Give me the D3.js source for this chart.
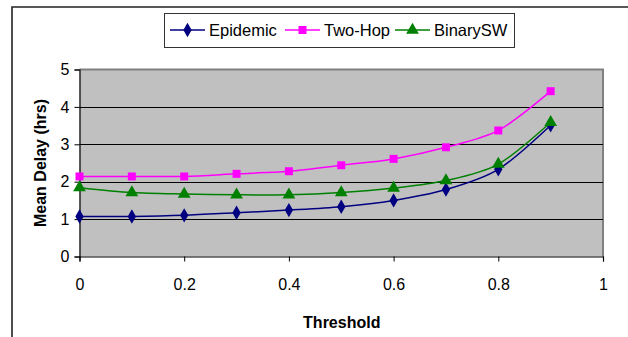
<!DOCTYPE html>
<html>
<head>
<meta charset="utf-8">
<script src="https://cdn.jsdelivr.net/npm/d3@7"></script>
<style>
  html, body { margin: 0; padding: 0; background: #fff; }
  svg { display: block; }
  text { font-family: Arial, "Liberation Sans", sans-serif; }
</style>
</head>
<body>
<svg id="chart" width="628" height="337"></svg>
<script>
// Threshold values and mean delays (hours) for the three routing schemes
const thresholds = [0, 0.1, 0.2, 0.3, 0.4, 0.5, 0.6, 0.7, 0.8, 0.9];
const epidemic  = [1.07, 1.07, 1.10, 1.17, 1.24, 1.33, 1.50, 1.79, 2.33, 3.51];
const twoHop    = [2.14, 2.14, 2.14, 2.21, 2.28, 2.44, 2.61, 2.92, 3.37, 4.42];
const binarySW  = [1.84, 1.71, 1.67, 1.65, 1.65, 1.71, 1.83, 2.03, 2.47, 3.59];
const xTicks = [0, 0.2, 0.4, 0.6, 0.8, 1];
const yTicks = [0, 1, 2, 3, 4, 5];
const seriesNames = ["Epidemic", "Two-Hop", "BinarySW"];

const series = [
  { name: seriesNames[0], values: epidemic, color: "#000080", symbol: d3.symbolDiamond, size: 60 },
  { name: seriesNames[1], values: twoHop,   color: "#FF00FF", symbol: d3.symbolSquare,  size: 64 },
  { name: seriesNames[2], values: binarySW, color: "#008000", symbol: d3.symbolTriangle, size: 70 }
];

const svg = d3.select("#chart");

// outer chart frame
svg.append("path")
  .attr("d", "M12,337 L12,7 L628,7")
  .attr("fill", "none").attr("stroke", "#222").attr("stroke-width", 1.6);

const plot = { left: 79.5, right: 603, top: 69.5, bottom: 256.5 };
const x = d3.scaleLinear().domain([0, 1]).range([plot.left, plot.right]);
const y = d3.scaleLinear().domain([0, 5]).range([plot.bottom, plot.top]);

// plot area
svg.append("rect")
  .attr("x", plot.left).attr("y", plot.top)
  .attr("width", plot.right - plot.left).attr("height", plot.bottom - plot.top)
  .attr("fill", "#C0C0C0");
svg.append("path")
  .attr("d", `M${plot.left},${plot.top} L${plot.right},${plot.top} L${plot.right},${plot.bottom}`)
  .attr("fill", "none").attr("stroke", "#808080").attr("stroke-width", 2);

// horizontal gridlines
svg.append("g").selectAll("line")
  .data(yTicks.filter(v => v > 0 && v < 5))
  .join("line")
  .attr("x1", plot.left).attr("x2", plot.right)
  .attr("y1", d => Math.round(y(d)) + 0.5).attr("y2", d => Math.round(y(d)) + 0.5)
  .attr("stroke", "#000").attr("stroke-width", 1);

// axes
const xAxis = svg.append("g")
  .attr("transform", `translate(0,${plot.bottom})`)
  .call(d3.axisBottom(x).tickValues(xTicks).tickSize(5).tickPadding(17)
    .tickFormat(d => d === 0 || d === 1 ? d3.format("d")(d) : d3.format(".1f")(d)));
const yAxis = svg.append("g")
  .attr("transform", `translate(${plot.left},0)`)
  .call(d3.axisLeft(y).tickValues(yTicks).tickSize(5).tickPadding(5).tickFormat(d3.format("d")));
[xAxis, yAxis].forEach(g => {
  g.select(".domain").attr("stroke", "#000").attr("stroke-width", 1.2);
  g.selectAll(".tick line").attr("stroke", "#000");
  g.selectAll(".tick text").attr("fill", "#000")
    .style("font-size", "16px").style("font-family", "Arial, 'Liberation Sans', sans-serif");
});

// axis titles
svg.append("text")
  .attr("x", (plot.left + plot.right) / 2 + 0.5).attr("y", 328)
  .attr("text-anchor", "middle")
  .style("font-size", "16px").style("font-weight", "bold")
  .text("Threshold");
svg.append("text")
  .attr("transform", `translate(46,${(plot.top + plot.bottom) / 2}) rotate(-90)`)
  .attr("text-anchor", "middle")
  .style("font-size", "16px").style("font-weight", "bold")
  .text("Mean Delay (hrs)");

// series lines and markers
const line = d3.line()
  .x((d, i) => x(thresholds[i]))
  .y(d => y(d))
  .curve(d3.curveCardinal.tension(0.1));

series.forEach(s => {
  svg.append("path")
    .attr("d", line(s.values))
    .attr("fill", "none").attr("stroke", s.color).attr("stroke-width", 1.5);
  svg.append("g").selectAll("path")
    .data(s.values)
    .join("path")
    .attr("transform", (d, i) => `translate(${x(thresholds[i])},${y(d)})`)
    .attr("d", d3.symbol().type(s.symbol).size(s.size))
    .attr("fill", s.color);
});

// legend
const legend = svg.append("g");
legend.append("rect")
  .attr("x", 164.5).attr("y", 13.5).attr("width", 350).attr("height", 34)
  .attr("fill", "#fff").attr("stroke", "#333").attr("stroke-width", 1);
const legendX = [170, 285, 395];
series.forEach((s, i) => {
  const g = legend.append("g").attr("transform", `translate(${legendX[i]},30)`);
  g.append("line").attr("x1", 0).attr("x2", 35).attr("y1", 0).attr("y2", 0)
    .attr("stroke", s.color).attr("stroke-width", 1.5);
  g.append("path").attr("transform", "translate(17.5,0)")
    .attr("d", d3.symbol().type(s.symbol).size(s.size)).attr("fill", s.color);
  g.append("text").attr("x", 39).attr("y", 6)
    .style("font-size", "16.5px").text(s.name);
});
</script>
</body>
</html>
